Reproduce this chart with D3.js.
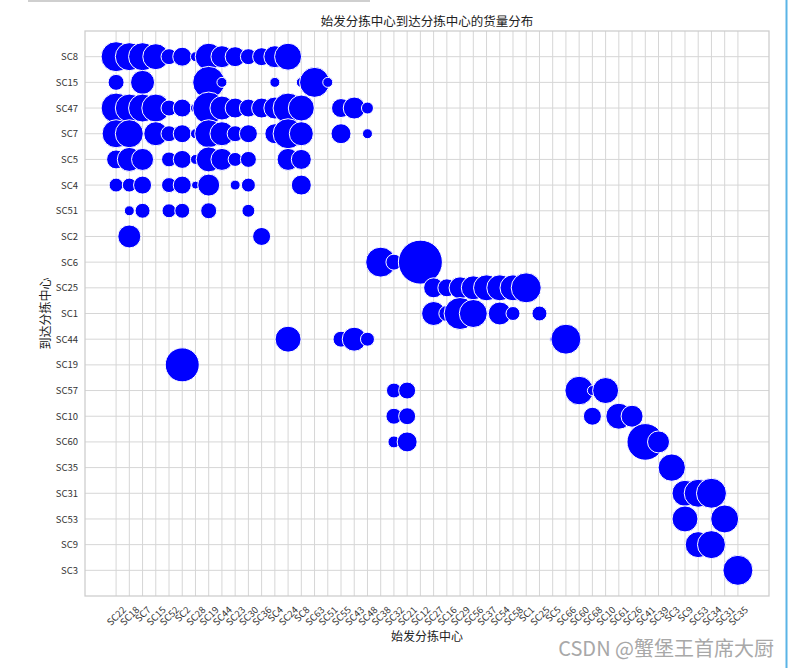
<!DOCTYPE html>
<html><head><meta charset="utf-8">
<script src="https://cdn.jsdelivr.net/npm/d3@7/dist/d3.min.js"></script>
<style>
html,body{margin:0;padding:0;background:#fff;}
svg{display:block;font-family:"Noto Sans CJK SC","DejaVu Sans",sans-serif;}
</style></head><body>
<svg id="chart" width="789" height="668"></svg>
<script>
const xCategories = ["SC22","SC18","SC7","SC15","SC52","SC2","SC28","SC19","SC44","SC23","SC30","SC36","SC4","SC24","SC8","SC63","SC51","SC55","SC43","SC48","SC38","SC32","SC21","SC12","SC27","SC16","SC29","SC56","SC37","SC54","SC58","SC1","SC25","SC5","SC66","SC60","SC68","SC10","SC61","SC26","SC41","SC39","SC3","SC9","SC53","SC34","SC31","SC35"];
const yCategories = ["SC8","SC15","SC47","SC7","SC5","SC4","SC51","SC2","SC6","SC25","SC1","SC44","SC19","SC57","SC10","SC60","SC35","SC31","SC53","SC9","SC3"];
// [origin, destination, volume]
const flows = [
 ["SC22","SC8",2250],["SC18","SC8",1960],["SC7","SC8",1960],["SC15","SC8",1690],["SC52","SC8",640],["SC2","SC8",900],["SC28","SC8",250],["SC19","SC8",1820],["SC44","SC8",1210],["SC23","SC8",1000],["SC30","SC8",640],["SC36","SC8",810],["SC4","SC8",1210],["SC24","SC8",1820],
 ["SC22","SC15",640],["SC7","SC15",1440],["SC19","SC15",2560],["SC44","SC15",250],["SC4","SC15",250],["SC8","SC15",250],["SC63","SC15",2250],["SC51","SC15",250],
 ["SC22","SC47",2250],["SC18","SC47",1960],["SC7","SC47",1960],["SC15","SC47",1960],["SC52","SC47",640],["SC2","SC47",810],["SC28","SC47",250],["SC19","SC47",2560],["SC44","SC47",1440],["SC23","SC47",1000],["SC30","SC47",810],["SC36","SC47",1000],["SC4","SC47",1210],["SC24","SC47",2250],["SC8","SC47",1690],["SC55","SC47",900],["SC43","SC47",1210],["SC48","SC47",360],
 ["SC22","SC7",1960],["SC18","SC7",1960],["SC15","SC7",1440],["SC52","SC7",640],["SC2","SC7",810],["SC28","SC7",250],["SC19","SC7",1960],["SC44","SC7",1440],["SC23","SC7",640],["SC30","SC7",810],["SC4","SC7",1000],["SC24","SC7",2250],["SC8","SC7",1440],["SC55","SC7",1000],["SC48","SC7",250],
 ["SC22","SC5",900],["SC18","SC5",1440],["SC7","SC5",1210],["SC52","SC5",560],["SC2","SC5",810],["SC28","SC5",250],["SC19","SC5",1560],["SC44","SC5",1210],["SC23","SC5",490],["SC30","SC5",640],["SC24","SC5",1210],["SC8","SC5",1000],
 ["SC22","SC4",490],["SC18","SC4",490],["SC7","SC4",810],["SC52","SC4",560],["SC2","SC4",810],["SC28","SC4",160],["SC19","SC4",1210],["SC23","SC4",250],["SC30","SC4",490],["SC8","SC4",1000],
 ["SC18","SC51",250],["SC7","SC51",560],["SC52","SC51",490],["SC2","SC51",560],["SC19","SC51",640],["SC30","SC51",420],
 ["SC18","SC2",1320],["SC36","SC2",810],
 ["SC38","SC6",2250],["SC32","SC6",640],["SC12","SC6",4840],
 ["SC27","SC25",1000],["SC16","SC25",810],["SC29","SC25",1210],["SC56","SC25",1440],["SC37","SC25",1690],["SC54","SC25",1690],["SC58","SC25",1690],["SC1","SC25",2250],
 ["SC27","SC1",1440],["SC16","SC1",640],["SC29","SC1",2560],["SC56","SC1",1960],["SC54","SC1",1320],["SC58","SC1",490],["SC25","SC1",560],
 ["SC24","SC44",1690],["SC55","SC44",640],["SC43","SC44",1440],["SC48","SC44",490],["SC5","SC44",90],["SC66","SC44",2250],
 ["SC2","SC19",2890],
 ["SC32","SC57",560],["SC21","SC57",720],["SC60","SC57",2040],["SC68","SC57",250],["SC10","SC57",1690],
 ["SC32","SC10",640],["SC21","SC10",720],["SC68","SC10",810],["SC61","SC10",1690],["SC26","SC10",1210],
 ["SC32","SC60",360],["SC21","SC60",1000],["SC41","SC60",3360],["SC39","SC60",1210],
 ["SC3","SC35",1870],
 ["SC9","SC31",1690],["SC53","SC31",1960],["SC34","SC31",2250],
 ["SC9","SC53",1690],["SC31","SC53",1960],
 ["SC53","SC9",1690],["SC34","SC9",1960],
 ["SC35","SC3",2250]
];
const titleText = "始发分拣中心到达分拣中心的货量分布";
const xLabel = "始发分拣中心";
const yLabel = "到达分拣中心";

const svg = d3.select("#chart");
const L = 85, R = 769, T = 31, B = 596;
const gridColor = "#d6d6d6";

const x = d3.scalePoint().domain(xCategories).range([L, R]).padding(2.35);
const y = d3.scalePoint().domain(yCategories).range([T, B]).padding(1);
const r = d3.scaleSqrt().domain([0, 4840]).range([0, 22]);

// screenshot artifacts
svg.append("line").attr("x1",28).attr("x2",370).attr("y1",1).attr("y2",1).attr("stroke","#cfcfcf").attr("stroke-width",2);
svg.append("line").attr("x1",786.5).attr("x2",786.5).attr("y1",0).attr("y2",668).attr("stroke","#5ab4e6").attr("stroke-width",2);

// grid
const g = svg.append("g");
g.selectAll(".vx").data(xCategories).join("line")
 .attr("x1",d=>x(d)).attr("x2",d=>x(d)).attr("y1",T).attr("y2",B)
 .attr("stroke",gridColor).attr("stroke-width",1);
g.selectAll(".hy").data(yCategories).join("line")
 .attr("y1",d=>y(d)).attr("y2",d=>y(d)).attr("x1",L).attr("x2",R)
 .attr("stroke",gridColor).attr("stroke-width",1);
g.append("rect").attr("x",L).attr("y",T).attr("width",R-L).attr("height",B-T)
 .attr("fill","none").attr("stroke","#cccccc").attr("stroke-width",1.25);

// bubbles
svg.append("g").selectAll("circle").data(flows).join("circle")
 .attr("cx",d=>x(d[0])).attr("cy",d=>y(d[1])).attr("r",d=>r(d[2]))
 .attr("fill","#0000ff").attr("stroke","#ffffff").attr("stroke-width",1);

// y axis
const ya = svg.append("g").attr("transform",`translate(${L-7},0)`)
 .call(d3.axisLeft(y).tickSize(0).tickPadding(0));
ya.select(".domain").remove();
ya.selectAll("text").attr("font-size",9.5).attr("fill","#333").attr("font-family","'Noto Sans CJK SC','DejaVu Sans',sans-serif");

// x axis with rotated labels (centered bbox like matplotlib)
const xa = svg.append("g");
const fs = 9.5;
xa.selectAll("text").data(xCategories).join("text")
 .text(d=>d).attr("font-size",fs).attr("fill","#333")
 .attr("text-anchor","middle").attr("dominant-baseline","central")
 .each(function(d){
   const w = this.getComputedTextLength();
   const h = fs*0.8;
   const H = (w + h) * Math.SQRT1_2;
   d3.select(this).attr("transform",`translate(${x(d)},${B + 9 + H/2}) rotate(-45)`);
 });

// labels
svg.append("text").attr("x",(L+R)/2).attr("y",20).attr("text-anchor","middle")
 .attr("dominant-baseline","central").attr("font-size",12.5).attr("fill","#222").text(titleText);
svg.append("text").attr("x",(L+R)/2).attr("y",635).attr("text-anchor","middle")
 .attr("dominant-baseline","central").attr("font-size",12).attr("fill","#222").text(xLabel);
svg.append("text").attr("transform",`translate(44,${(T+B)/2}) rotate(-90)`).attr("text-anchor","middle")
 .attr("dominant-baseline","central").attr("font-size",12).attr("fill","#222").text(yLabel);

// watermark
svg.append("text").attr("x",774).attr("y",656).attr("text-anchor","end")
 .attr("font-size",20).attr("fill","#a8a8a8").attr("font-family","'Noto Sans CJK SC',sans-serif").text("CSDN @蟹堡王首席大厨");
</script>
</body></html>
